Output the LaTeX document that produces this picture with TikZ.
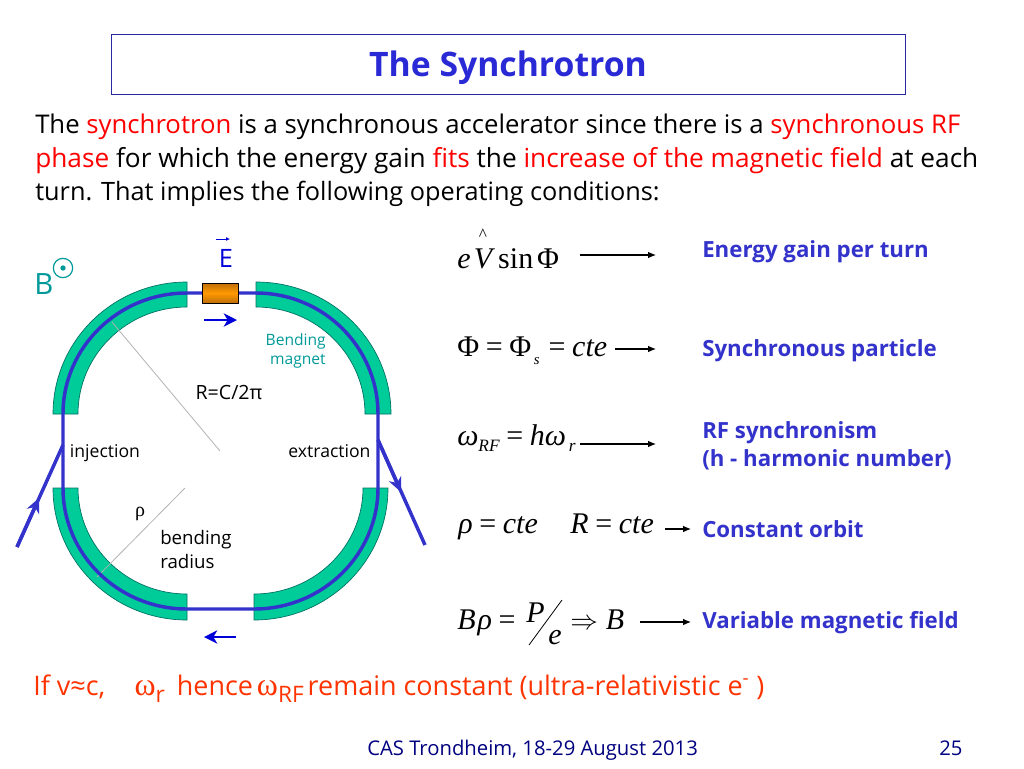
\documentclass[tikz,border=0pt]{standalone}
\usepackage{fontspec}
\usepackage{xcolor}
\usetikzlibrary{arrows.meta}
\setmainfont{Open Sans}
\newfontfamily\eqfont{Liberation Serif}
\definecolor{beamblue}{RGB}{51,51,204}
\definecolor{magnetgreen}{RGB}{0,204,153}
\definecolor{magnetedge}{RGB}{0,110,100}
\definecolor{labelteal}{RGB}{0,153,153}
\definecolor{slidered}{RGB}{255,0,0}
\definecolor{noteorange}{RGB}{255,51,0}
\definecolor{footnavy}{RGB}{0,0,128}
\definecolor{rfgold}{RGB}{255,153,0}
\definecolor{rfbrown}{RGB}{190,110,10}
\newcommand{\px}[1]{\fontsize{#1}{#1}\selectfont}
\newcommand{\redword}[1]{\textcolor{slidered}{#1}}
\newcommand{\wsub}[1]{\raisebox{-0.5ex}{\px{17}#1}}
\newcommand{\eqs}{\kern5pt\upshape=\kern5pt\itshape}
\tikzset{
  bodytext/.style={anchor=base west,inner sep=0pt,font=\px{19.3}},
  gainlabel/.style={anchor=base west,inner sep=0pt,text=beamblue,align=left,font=\px{16.7}\bfseries},
  equation/.style={anchor=base west,inner sep=0pt,font=\eqfont\px{22.5}},
  smalltext/.style={inner sep=0pt,font=\px{13.2}},
  magnet/.style={fill=magnetgreen,draw=magnetedge,line width=0.5pt},
  beamline/.style={draw=beamblue,line width=2.6pt},
  flowarrow/.style={draw=blue!85!black,line width=1.1pt,-{Stealth[length=10pt,width=10pt,inset=3pt]}},
  eqarrow/.style={draw=black,line width=0.8pt,-{Latex[length=6pt,width=5pt]}},
  radiusline/.style={draw=black!30,line width=0.6pt}
}
\begin{document}
\begin{tikzpicture}[x=0.75pt,y=-0.75pt]
  \useasboundingbox (0,0) rectangle (1024,768);

  % Title box and text
  \draw[draw=beamblue!80!black,line width=0.5pt] (111,34) rectangle (905,94);
  \node[anchor=base,inner sep=0pt,text=beamblue!80!blue,font=\px{25.3}\bfseries] (title) at (508,76) {The Synchrotron};
  \node[bodytext] (lineone) at (35,133) {The \redword{synchrotron} is a synchronous accelerator since there is a \redword{synchronous RF}};
  \node[bodytext,font=\px{19.67}] (linetwo) at (35,167) {\redword{phase} for which the energy gain \redword{fits} the \redword{increase of the magnetic field} at each};
  \node[bodytext,font=\px{18.97}] (linethree) at (35,200) {turn. That implies the following operating conditions:};

  % Bending magnets
  \draw[magnet] (53,414) arc[start angle=180,end angle=270,x radius=134,y radius=132] -- (187,307) arc[start angle=270,end angle=180,x radius=109,y radius=107] -- cycle;
  \draw[magnet] (256,282) arc[start angle=270,end angle=360,x radius=135,y radius=132] -- (365,414) arc[start angle=0,end angle=-90,x radius=109,y radius=107] -- cycle;
  \draw[magnet] (388,488) arc[start angle=0,end angle=90,x radius=134,y radius=132] -- (254,594) arc[start angle=90,end angle=0,x radius=109,y radius=106] -- cycle;
  \draw[magnet] (187,620) arc[start angle=90,end angle=180,x radius=134,y radius=132] -- (78,488) arc[start angle=180,end angle=90,x radius=109,y radius=106] -- cycle;

  % Radius lines
  \coordinate (bigrA) at (112,322);
  \coordinate (bigrB) at (220,451);
  \coordinate (rhoA) at (185,488);
  \coordinate (rhoB) at (97,577);
  \draw[radiusline] (bigrA) -- (bigrB);
  \draw[radiusline] (rhoA) -- (rhoB);

  % Beam orbit
  \draw[beamline] (63,414) arc[start angle=180,end angle=270,x radius=124,y radius=121] -- (256,293)
    arc[start angle=270,end angle=360,x radius=122,y radius=121] -- (378,488)
    arc[start angle=0,end angle=90,x radius=124,y radius=121] -- (187,609)
    arc[start angle=90,end angle=180,x radius=124,y radius=121] -- cycle;

  % Injection and extraction
  \coordinate (injA) at (17,547);
  \coordinate (injB) at (39,498);
  \coordinate (injC) at (63,445);
  \coordinate (extA) at (378,440);
  \coordinate (extB) at (401,492);
  \coordinate (extC) at (425,545);
  \draw[beamline] (injA) -- (injC);
  \draw[beamline] (extA) -- (extC);
  \draw[draw=beamblue,line width=2.6pt,-{Stealth[length=11pt,width=10pt]}] (injA) -- (injB);
  \draw[draw=beamblue,line width=2.6pt,-{Stealth[length=11pt,width=10pt]}] (extA) -- (extB);

  % RF cavity
  \shade[top color=rfbrown,bottom color=rfbrown,middle color=rfgold] (202,283) rectangle (238,303);
  \draw[line width=0.6pt] (202,283) rectangle (238,303);

  % Direction arrows
  \coordinate (cwA) at (204,320);
  \coordinate (cwB) at (237,320);
  \coordinate (ccwA) at (236,637);
  \coordinate (ccwB) at (204,637);
  \draw[flowarrow] (cwA) -- (cwB);
  \draw[flowarrow] (ccwA) -- (ccwB);

  % Ring labels
  \node[inner sep=0pt,text=labelteal,font=\px{22}] (fieldB) at (44,284) {B};
  \node[circle,draw=labelteal,line width=0.9pt,minimum size=14.5pt,inner sep=0pt] (fieldring) at (63,268) {};
  \node[circle,fill=labelteal,minimum size=4pt,inner sep=0pt] (fielddot) at (63,268) {};
  \node[inner sep=0pt,text=blue!85!black,font=\px{19}] (fieldE) at (226,258) {E};
  \coordinate (vecA) at (216,239);
  \coordinate (vecB) at (230,239);
  \draw[draw=blue!85!black,line width=0.6pt,-{Latex[length=3pt,width=3pt]}] (vecA) -- (vecB);
  \node[smalltext,font=\px{11.7},text=labelteal,align=right,anchor=east] (bendlabel) at (326,351) {Bending\\[3pt]magnet};
  \node[smalltext,font=\px{14.7}] (radiuslabel) at (229,392) {R=C/2π};
  \node[smalltext,anchor=base] (injlabel) at (105,457) {injection};
  \node[smalltext,anchor=base] (extlabel) at (329.5,457) {extraction};
  \node[smalltext,font=\eqfont\px{15}] (rholabel) at (140,514) {ρ};
  \node[smalltext,font=\px{14},align=left,anchor=north west] (bendradius) at (160,530) {bending\\[4pt]radius};

  % Equations
  \node[equation] (eqgain) at (457,268) {\itshape e\kern2.5pt V\kern4.5pt\upshape sin\kern3ptΦ};
  \node[inner sep=0pt,font=\eqfont\px{13}] (eqhat) at (483,235) {\char"005E};
  \node[equation] (eqphase) at (457,356) {Φ\eqs\upshape Φ\raisebox{-0.6ex}{\px{11}\itshape\,s\,}\eqs cte};
  \node[equation] (eqomega) at (457,445) {\itshape ω\raisebox{-0.5ex}{\px{13}RF}\eqs hω\raisebox{-0.5ex}{\px{13}\,r}};
  \node[equation] (eqrho) at (458,533) {\itshape ρ\eqs cte};
  \node[equation] (eqradius) at (570,533) {\itshape R\eqs cte};
  \node[equation] (eqbrho) at (457,629) {\itshape B\kern1.5ptρ\eqs};
  \node[equation] (eqP) at (526,622) {\itshape P};
  \node[equation] (eqe) at (548,644) {\itshape e};
  \coordinate (slashA) at (562,600);
  \coordinate (slashB) at (529,645);
  \draw[line width=0.6pt] (slashA) -- (slashB);
  \node[equation] (eqimplies) at (570,629) {$\Rightarrow$\kern6pt\itshape B};

  % Arrows from equations to meanings
  \coordinate (arrowAs) at (580,255);
  \coordinate (arrowAe) at (656,255);
  \coordinate (arrowBs) at (615,349);
  \coordinate (arrowBe) at (656,349);
  \coordinate (arrowCs) at (580,444);
  \coordinate (arrowCe) at (656,444);
  \coordinate (arrowDs) at (665,529);
  \coordinate (arrowDe) at (691,529);
  \coordinate (arrowEs) at (640,622);
  \coordinate (arrowEe) at (691,622);
  \draw[eqarrow] (arrowAs) -- (arrowAe);
  \draw[eqarrow] (arrowBs) -- (arrowBe);
  \draw[eqarrow] (arrowCs) -- (arrowCe);
  \draw[eqarrow] (arrowDs) -- (arrowDe);
  \draw[eqarrow] (arrowEs) -- (arrowEe);

  % Meanings
  \node[gainlabel] (gaintext) at (702,257) {Energy gain per turn};
  \node[gainlabel] (synctext) at (702,356) {Synchronous particle};
  \node[gainlabel] (rftext) at (702,438) {RF synchronism};
  \node[gainlabel] (harmtext) at (702,466) {(h - harmonic number)};
  \node[gainlabel] (orbittext) at (702,537) {Constant orbit};
  \node[gainlabel] (fieldtext) at (702,628) {Variable magnetic field};

  % Bottom note and footer
  \node[bodytext,font=\px{20.2},text=noteorange] (note) at (33,695) {If v≈c,\kern22pt{\eqfont\px{24}ω}\wsub{r}\kern9pt hence\kern3pt{\eqfont\px{24}ω}\wsub{RF}\kern3pt remain constant (ultra-relativistic e\textsuperscript{-} )};
  \node[anchor=base west,inner sep=0pt,text=footnavy,font=\px{15.2}] (footer) at (367,755) {CAS Trondheim, 18-29 August 2013};
  \node[anchor=base west,inner sep=0pt,text=footnavy,font=\px{15.2}] (pagenum) at (939,755) {25};
\end{tikzpicture}
\end{document}
